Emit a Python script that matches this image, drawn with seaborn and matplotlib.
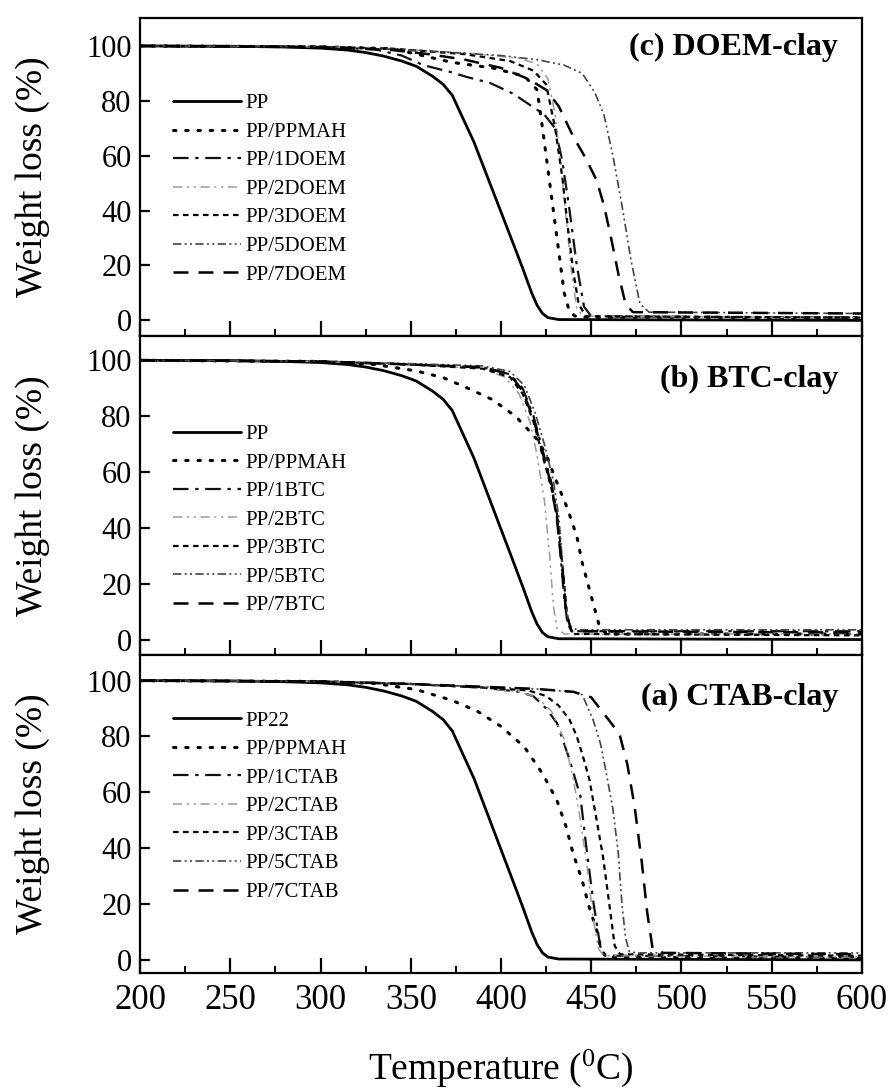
"""
TGA curves of PP / clay nanocomposites, three stacked panels.
"""

# %% ---- Requirements and constants
import matplotlib
matplotlib.use('Agg')
import matplotlib.pyplot as plt
from matplotlib.ticker import MultipleLocator
import seaborn as sns

# PP (neat polymer), same curve in all panels
pp_t = [200, 250, 280, 300, 315, 325, 335, 345, 353, 362, 368, 373, 385, 395,
        405, 412, 417, 420, 423, 426, 432, 600]
pp_w = [100, 99.9, 99.6, 99.2, 98.5, 97.6, 96.3, 94.5, 92.6, 89.0, 86.0, 82.0,
        65.0, 48.0, 31.0, 19.0, 10.0, 5.5, 2.5, 1.0, 0.3, 0.0]

# (c) DOEM-clay
c_ppmah_t = [200, 300, 340, 373, 395, 413, 420, 423, 426, 429, 432, 435, 438, 442, 600]
c_ppmah_w = [100, 99.7, 99, 94, 92, 89, 84, 70, 55, 40, 25, 10, 3, 1.2, 1]
c_1_t = [200, 300, 330, 345, 357, 372, 381, 394, 407, 416, 424, 430, 434, 438, 442, 446, 450, 600]
c_1_w = [100, 99.6, 98.8, 96.5, 93, 90.5, 88.7, 86.5, 82.5, 78.5, 75, 70, 58, 40, 20, 5, 1.5, 1]
c_2_t = [200, 300, 340, 380, 410, 420, 426, 430, 433, 436, 439, 442, 446, 600]
c_2_w = [100, 99.7, 99, 97.5, 95.5, 93.5, 88, 75, 58, 38, 18, 4, 1.5, 1]
c_3_t = [200, 300, 340, 380, 405, 418, 425, 430, 434, 437, 440, 443, 447, 600]
c_3_w = [100, 99.7, 99, 97, 94.5, 91, 86, 70, 52, 34, 18, 6, 1.5, 1]
c_5_t = [200, 300, 350, 400, 420, 435, 445, 452, 457, 462, 467, 472, 477, 482, 600]
c_5_w = [100, 99.8, 98.5, 96.5, 95, 93, 90, 83, 75, 60, 42, 22, 6, 3, 2.5]
c_7_t = [200, 300, 340, 360, 380, 400, 415, 425, 432, 440, 447, 453, 457, 461, 465, 469, 473, 600]
c_7_w = [100, 99.6, 98.5, 97, 95, 92, 88, 84, 78, 67, 59, 51, 42, 30, 17, 6, 3, 2.5]

# (b) BTC-clay
b_ppmah_t = [200, 300, 330, 353, 368, 381, 395, 408, 420, 425, 431, 437, 442, 445, 449, 453, 455, 460, 600]
b_ppmah_w = [100, 99.6, 98.5, 96.2, 93.8, 90.2, 86, 80, 71.7, 66.3, 56.2, 46.6, 37, 27.5, 17.9, 8.4, 3.6, 2, 2]
b_1_t = [200, 300, 350, 390, 405, 412, 418, 423, 428, 431, 433, 435, 437, 440, 600]
b_1_w = [100, 99.6, 98.5, 97.5, 95, 90, 80, 68, 56, 45, 30, 15, 5, 3, 3]
b_2_t = [200, 300, 350, 390, 402, 410, 416, 420, 424, 427, 429, 431, 435, 600]
b_2_w = [100, 99.6, 98.5, 97, 94, 88, 78, 66, 50, 30, 12, 4, 2, 2]
b_3_t = [200, 300, 350, 390, 405, 412, 418, 423, 428, 432, 435, 437, 440, 600]
b_3_w = [100, 99.6, 98.5, 97, 94, 88, 78, 66, 54, 40, 20, 6, 2, 1.5]
b_5_t = [200, 300, 350, 390, 405, 413, 419, 424, 429, 432, 434, 436, 438, 442, 600]
b_5_w = [100, 99.7, 98.8, 98, 96, 91, 81, 70, 57, 44, 28, 12, 5, 3.5, 3.5]
b_7_t = [200, 300, 350, 390, 405, 412, 418, 423, 428, 431, 434, 436, 439, 600]
b_7_w = [100, 99.6, 98.5, 97.5, 95, 89, 79, 67, 55, 43, 25, 10, 3, 2.5]

# (a) CTAB-clay
a_ppmah_t = [200, 300, 330, 353, 373, 387, 400, 413, 423, 431, 436, 440, 445, 449, 453.7, 455, 458, 600]
a_ppmah_w = [100, 99.7, 99, 96.8, 92.9, 89, 83.6, 76.2, 66.7, 57.1, 47.8, 38, 28.4, 18.5, 9.3, 4.8, 1, 0.5]
a_1_t = [200, 300, 350, 390, 410, 418, 425, 431, 438, 444, 447, 451, 455, 458, 600]
a_1_w = [100, 99.7, 98.8, 97.5, 96, 94.4, 90, 84.8, 71.7, 58.5, 41.8, 21.5, 4.8, 1.5, 1]
a_2_t = [200, 300, 350, 390, 410, 420, 428, 435, 440, 444, 448, 451, 454, 457, 600]
a_2_w = [100, 99.7, 98.8, 97.5, 96, 94, 89, 79, 65, 50, 32, 15, 4, 1.5, 1]
a_3_t = [200, 300, 350, 390, 415, 425, 432, 438, 442, 445.4, 449, 453, 456.5, 460, 463, 466, 600]
a_3_w = [100, 99.7, 98.8, 97.5, 96.5, 94.5, 91, 86, 80, 72.9, 64.5, 50, 37, 20, 5, 2, 1.5]
a_5_t = [200, 300, 350, 390, 420, 438, 445, 451, 455, 458, 462, 465, 467, 469, 471, 475, 600]
a_5_w = [100, 99.7, 98.8, 97.8, 97, 96, 95, 86, 77.7, 68, 54, 38, 20, 8, 3, 2.5, 2.5]
a_7_t = [200, 300, 350, 390, 420, 440, 450, 456, 462, 466, 470, 474, 478, 481, 484, 490, 600]
a_7_w = [100, 99.7, 98.8, 97.8, 97, 96, 94, 89, 84, 80, 70, 55, 35, 17, 4, 2.5, 2]

# line look per sample slot (PP, PPMAH, 1, 2, 3, 5, 7)
styles = [
    dict(color='black', lw=2.0, ls='-'),
    dict(color='black', lw=2.2, ls=(0, (0.8, 3.2)), dash_capstyle='round'),
    dict(color='#111111', lw=1.6, ls=(0, (7, 3, 1.5, 3))),
    dict(color='#9a9a9a', lw=1.1, ls=(0, (6, 3, 1.5, 3, 1.5, 3))),
    dict(color='black', lw=1.6, ls=(0, (2.5, 2))),
    dict(color='#444444', lw=1.2, ls=(0, (5, 2, 1.2, 2, 1.2, 2))),
    dict(color='black', lw=1.8, ls=(0, (6, 4))),
]

panels = [
    dict(title='(c) DOEM-clay', title_y=0.906, leg_y=0.762, ylim=(-5.8, 110.2),
         labels=['PP', 'PP/PPMAH', 'PP/1DOEM', 'PP/2DOEM', 'PP/3DOEM', 'PP/5DOEM', 'PP/7DOEM'],
         curves=[(pp_t, pp_w), (c_ppmah_t, c_ppmah_w), (c_1_t, c_1_w), (c_2_t, c_2_w),
                 (c_3_t, c_3_w), (c_5_t, c_5_w), (c_7_t, c_7_w)]),
    dict(title='(b) BTC-clay', title_y=0.865, leg_y=0.723, ylim=(-5.4, 108.6),
         labels=['PP', 'PP/PPMAH', 'PP/1BTC', 'PP/2BTC', 'PP/3BTC', 'PP/5BTC', 'PP/7BTC'],
         curves=[(pp_t, pp_w), (b_ppmah_t, b_ppmah_w), (b_1_t, b_1_w), (b_2_t, b_2_w),
                 (b_3_t, b_3_w), (b_5_t, b_5_w), (b_7_t, b_7_w)]),
    dict(title='(a) CTAB-clay', title_y=0.865, leg_y=0.823, ylim=(-4.7, 109.3),
         labels=['PP22', 'PP/PPMAH', 'PP/1CTAB', 'PP/2CTAB', 'PP/3CTAB', 'PP/5CTAB', 'PP/7CTAB'],
         curves=[(pp_t, pp_w), (a_ppmah_t, a_ppmah_w), (a_1_t, a_1_w), (a_2_t, a_2_w),
                 (a_3_t, a_3_w), (a_5_t, a_5_w), (a_7_t, a_7_w)]),
]

# %% ---- Plot
sns.set_theme(style='ticks')
plt.rcParams['font.family'] = ['Liberation Serif', 'DejaVu Serif']
plt.rcParams['mathtext.default'] = 'regular'
for k in ['text.color', 'axes.labelcolor', 'xtick.color', 'ytick.color', 'axes.edgecolor']:
    plt.rcParams[k] = 'black'

fig, axes = plt.subplots(3, 1, figsize=(8.88, 10.88), dpi=100, sharex=True)
fig.subplots_adjust(left=0.1577, right=0.9707, top=0.9835, bottom=0.1057, hspace=0)

for ax, p in zip(axes, panels):
    for (t, w), lab, st in zip(p['curves'], p['labels'], styles):
        sns.lineplot(x=t, y=w, ax=ax, label=lab, errorbar=None, **st)

    ax.set_xlim(200, 600)
    ax.set_ylim(*p['ylim'])
    ax.set_yticks([0, 20, 40, 60, 80, 100])
    ax.xaxis.set_major_locator(MultipleLocator(50))
    ax.xaxis.set_minor_locator(MultipleLocator(25))
    ax.tick_params(axis='x', which='major', direction='in', length=11, width=1.6,
                   top=False, labelsize=25, pad=8)
    ax.tick_params(axis='x', which='minor', direction='in', length=5, width=1.4, top=False)
    ax.tick_params(axis='y', which='major', direction='in', length=7, width=1.6,
                   right=False, labelsize=22, pad=6)
    for s in ax.spines.values():
        s.set_linewidth(1.6)

    ax.set_ylabel('Weight loss (%)', fontsize=27)
    ax.yaxis.set_label_coords(-0.125, 0.5)
    ax.set_xlabel('')

    ax.text(0.967, p['title_y'], p['title'], transform=ax.transAxes, ha='right',
            va='center', fontsize=23, fontweight='bold')

    ax.legend(loc='upper left', bbox_to_anchor=(0.045, p['leg_y']), frameon=False,
              fontsize=15, handlelength=3.3, handletextpad=0.2, labelspacing=0.43,
              borderpad=0, borderaxespad=0)

axes[-1].set_xlabel('Temperature ($^0$C)', fontsize=27, labelpad=22)

fig.savefig('out.png', dpi=100)
